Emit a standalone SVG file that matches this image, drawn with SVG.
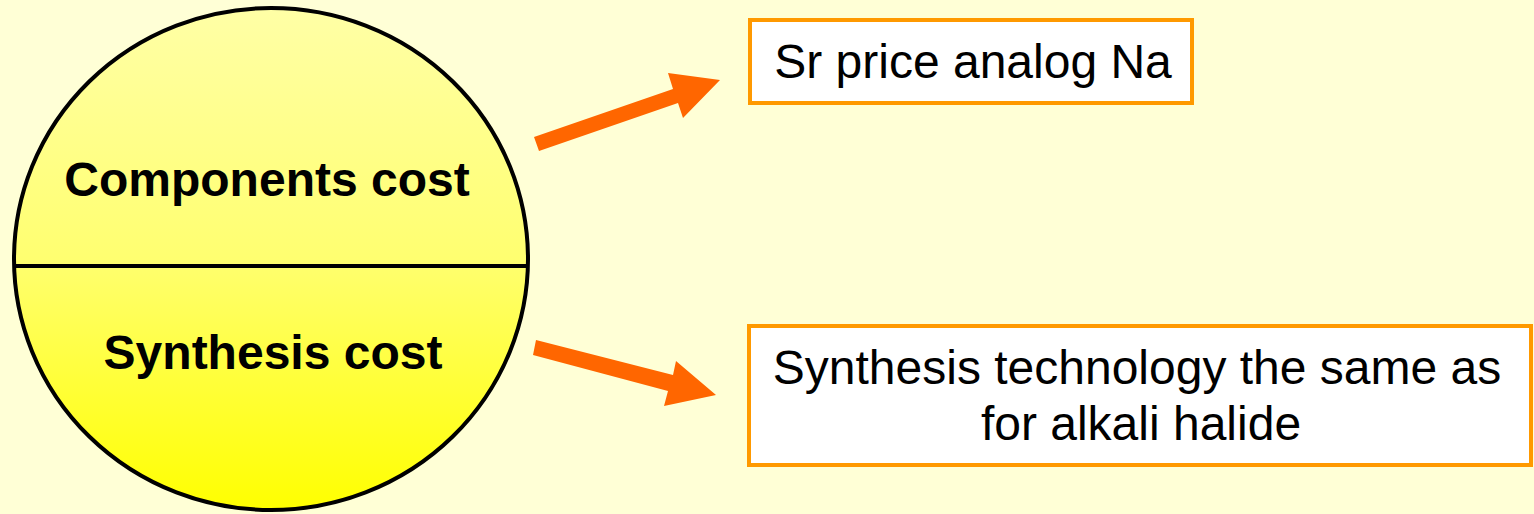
<svg xmlns="http://www.w3.org/2000/svg" width="1534" height="514" viewBox="0 0 1534 514">
<defs>
<linearGradient id="yg" x1="0" y1="0" x2="0" y2="1">
<stop offset="0" stop-color="#ffffa6"/>
<stop offset="0.5" stop-color="#ffff70"/>
<stop offset="1" stop-color="#ffff00"/>
</linearGradient>
<style>
.bold{font-family:"Liberation Sans",Arial,sans-serif;font-weight:bold;font-size:48px;fill:#000;text-anchor:middle}
.reg{font-family:"Liberation Sans",Arial,sans-serif;font-size:48px;fill:#000;text-anchor:middle}
.box{fill:#fff;stroke:#ff9900;stroke-width:4}
.arrow{fill:#ff6600}
</style>
</defs>
<rect width="1534" height="514" fill="#ffffd6"/>
<g id="circle">
<ellipse cx="271" cy="259" rx="257" ry="251" fill="url(#yg)" stroke="#000" stroke-width="4"/>
<line x1="15" y1="266" x2="527" y2="266" stroke="#000" stroke-width="4"/>
<text class="bold" x="267" y="196">Components cost</text>
<text class="bold" x="273" y="369">Synthesis cost</text>
</g>
<g id="connectors">
<polygon class="arrow" points="534,137 673,89 668,73 720,80 683,118 678,103 539,151"/>
<polygon class="arrow" points="536,340 673,375 676,361 716,395 664,406 668,391 533,355"/>
</g>
<g id="box1">
<rect class="box" x="750" y="20" width="442" height="83"/>
<text class="reg" x="973" y="78">Sr price analog Na</text>
</g>
<g id="box2">
<rect class="box" x="749" y="326" width="782" height="139"/>
<text class="reg" x="1137" y="384">Synthesis technology the same as</text>
<text class="reg" x="1141" y="440">for alkali halide</text>
</g>
</svg>
